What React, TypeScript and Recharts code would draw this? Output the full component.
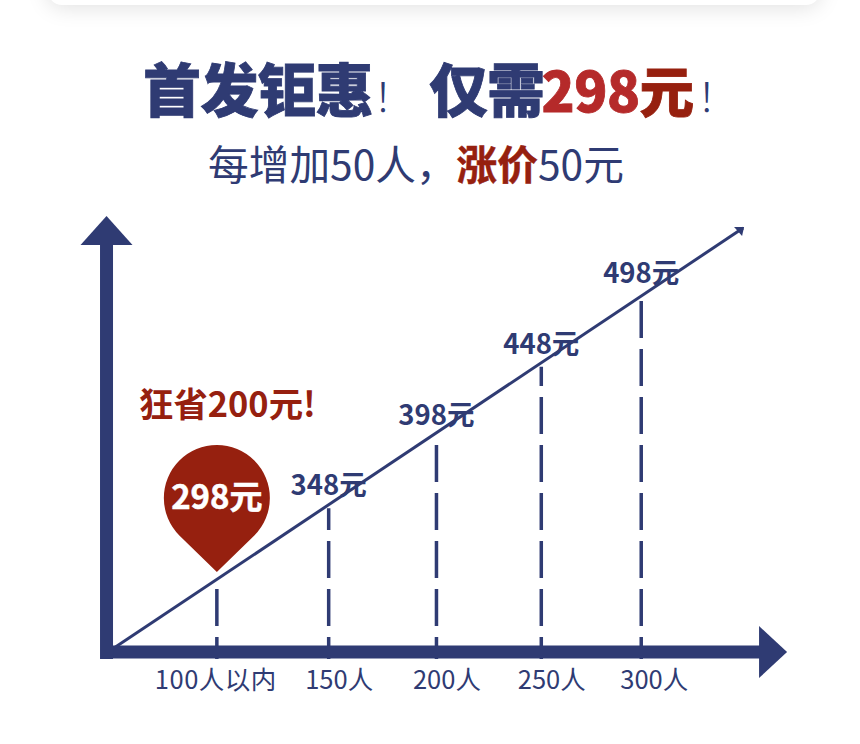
import React from 'react';
import { ComposedChart, Line, XAxis, YAxis, ReferenceLine, ReferenceDot, LabelList } from 'recharts';

const tickLabels = ['100人以内', '150人', '200人', '250人', '300人'];
const xReadings = [100, 152.7, 203.5, 252.9, 300];
const prices = [298, 348, 398, 448, 498];
const priceLabels = ['298元', '348元', '398元', '448元', '498元'];
const trendX = [51.5, 348];
const trendY = [249.2, 546];
const xDomain = [45.4, 368.7];
const yDomain = [241.5, 554.5];

const NAVY = '#2f3b73';
const RED = '#96200f';
const FONT = '"Noto Sans CJK SC", "Noto Sans", sans-serif';

const rows = xReadings.map((x, i) => ({ x, price: prices[i], label: priceLabels[i] }));
const trendRows = trendX.map((x, i) => ({ x, price: trendY[i] }));

const Pin = (p: any) => {
  const { cx, cy } = p;
  const c = cy - 81;
  const r = 53;
  const tip = cy - 7;
  return (
    <g>
      <path
        d={`M ${cx} ${tip} L ${cx - 37.5} ${c + 37.5} A ${r} ${r} 0 1 1 ${cx + 37.5} ${c + 37.5} Z`}
        fill={RED}
      />
      <text
        x={cx}
        y={c + 11}
        textAnchor="middle"
        fontFamily={FONT}
        fontWeight={700}
        fontSize={33}
        fill="#fff"
        stroke="#fff"
        strokeWidth={0.5}
      >
        {priceLabels[0]}
      </text>
    </g>
  );
};
const ArrowUp = (p: any) => <path d={`M ${p.cx - 26} ${p.cy} L ${p.cx} ${p.cy - 29} L ${p.cx + 26} ${p.cy} Z`} fill={NAVY} />;
const ArrowRight = (p: any) => <path d={`M ${p.cx - 1} ${p.cy - 26} L ${p.cx + 27} ${p.cy} L ${p.cx - 1} ${p.cy + 26} Z`} fill={NAVY} />;
const ArrowTrend = (p: any) => (
  <path
    d={`M ${p.cx + 1} ${p.cy - 1} L ${p.cx - 9} ${p.cy - 1} L ${p.cx - 1} ${p.cy + 8} Z`}
    fill={NAVY}
  />
);
const tickNudge = (i: number) => (i === 0 ? -1 : i === 4 ? 13 : 10.5);
const Tick = (p: any) => (
  <text
    x={p.x + tickNudge(p.index)}
    y={680}
    dy="0.36em"
    textAnchor="middle"
    fontFamily={FONT}
    fontSize={25.5}
    fill={NAVY}
    letterSpacing={p.index === 0 ? 0.5 : 0}
  >
    {tickLabels[p.index]}
  </text>
);

const abs = (left: number, top: number): React.CSSProperties => ({
  position: 'absolute',
  left,
  top,
  whiteSpace: 'nowrap',
  fontFamily: FONT,
  lineHeight: 1,
});

export default function App() {
  return (
    <div style={{ position: 'absolute', left: 0, top: 0, width: 860, height: 744, background: '#fff', overflow: 'hidden' }}>
      <div
        style={{
          position: 'absolute',
          left: 48,
          top: -60,
          width: 772,
          height: 65,
          borderRadius: 14,
          background: '#fff',
          boxShadow: '0 2px 22px rgba(0,0,0,0.13)',
        }}
      />
      <div style={{ ...abs(143, 58), fontSize: 58, fontWeight: 900, color: NAVY, letterSpacing: -0.5, WebkitTextStroke: '0.8px currentColor' }}>
        首发钜惠<span style={{ fontWeight: 300, fontSize: 40, margin: '0 17px 0 0', WebkitTextStroke: '0' }}>！</span>
        仅需
        <span style={{ color: '#b52a2a', fontSize: 54.5, marginLeft: -3 }}>298</span>
        <span style={{ color: RED, fontSize: 54.5 }}>元</span>
        <span style={{ fontWeight: 300, fontSize: 40, WebkitTextStroke: '0', marginLeft: 3 }}>！</span>
      </div>
      <div style={{ ...abs(208, 143), fontSize: 40.7, fontWeight: 400, color: NAVY }}>
        每增加50人，<span style={{ color: RED, fontWeight: 700, WebkitTextStroke: '0.5px currentColor' }}>涨价</span>50元
      </div>
      <div style={{ ...abs(139, 385), fontSize: 34.4, fontWeight: 700, color: RED }}>狂省200元!</div>

      <div style={{ position: 'absolute', left: 0, top: 0 }}>
        <ComposedChart
          width={860}
          height={744}
          data={rows}
          margin={{ top: 216, left: 101, right: 73, bottom: 35 }}
        >
          <XAxis
            type="number"
            dataKey="x"
            domain={xDomain}
            ticks={xReadings}
            interval={0}
            height={50}
            axisLine={false}
            tickLine={false}
            allowDecimals
            tick={Tick}
          />
          <YAxis hide type="number" domain={yDomain} />
          {rows.map((r) => (
            <ReferenceLine
              key={r.x}
              ifOverflow="visible"
              segment={[
                { x: r.x, y: yDomain[0] },
                { x: r.x, y: r.price },
              ]}
              stroke={NAVY}
              strokeWidth={3.5}
              strokeDasharray="37 11"
              strokeDashoffset={15}
            />
          ))}
          <ReferenceLine
            ifOverflow="visible"
            segment={[
              { x: xDomain[0], y: 246.4 },
              { x: 356, y: 246.4 },
            ]}
            stroke={NAVY}
            strokeWidth={13}
          />
          <ReferenceLine
            ifOverflow="visible"
            segment={[
              { x: 48, y: yDomain[0] },
              { x: 48, y: 534 },
            ]}
            stroke={NAVY}
            strokeWidth={13}
          />
          <ReferenceDot x={48} y={534} shape={ArrowUp} ifOverflow="visible" />
          <ReferenceDot x={356} y={246.4} shape={ArrowRight} ifOverflow="visible" />
          <Line
            data={trendRows}
            dataKey="price"
            stroke={NAVY}
            strokeWidth={3}
            dot={false}
            activeDot={false}
            isAnimationActive={false}
          />
          <Line
            data={rows.slice(1)}
            dataKey="price"
            stroke="none"
            dot={false}
            activeDot={false}
            isAnimationActive={false}
          >
            <LabelList
              dataKey="label"
              position="top"
              offset={13}
              fill={NAVY}
              fontSize={27.5}
              fontWeight={700}
              fontFamily={FONT}
            />
          </Line>
          <ReferenceDot x={348} y={546} shape={ArrowTrend} ifOverflow="visible" />
          <ReferenceDot x={xReadings[0]} y={prices[0]} shape={Pin} ifOverflow="visible" />
        </ComposedChart>
      </div>
    </div>
  );
}
